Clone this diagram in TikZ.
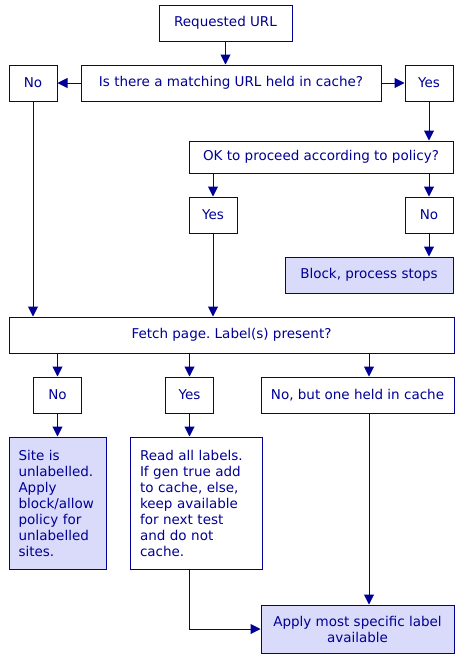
\documentclass[tikz,border=0pt]{standalone}
\usepackage{fontspec}
\setmainfont{DejaVu Sans}
\usetikzlibrary{arrows.meta,calc}
\definecolor{navy}{RGB}{0,0,150}
\definecolor{lav}{RGB}{218,218,250}
\tikzset{
  box/.style={draw=navy, line width=1pt, fill=white, text=navy, inner sep=0pt,
    font=\fontsize{13.5}{16}\selectfont\frenchspacing},
  fbox/.style={box, fill=lav},
  arr/.style={draw=navy, line width=1pt, -{Triangle[width=10pt,length=10pt]}},
  ln/.style={draw=navy, line width=1pt}
}
\begin{document}
\begin{tikzpicture}[x=1pt,y=-1pt]
\useasboundingbox (0,0) rectangle (463,659);
\node[box, minimum width=133pt, minimum height=36pt] (req) at (225.5,23) {Requested URL};
\node[box, minimum width=300pt, minimum height=36pt] (q) at (231,83) {Is there a matching URL held in cache?};
\node[box, minimum width=48pt, minimum height=36pt] (noL) at (33,83) {No};
\node[box, minimum width=48pt, minimum height=36pt] (yesR) at (429,83) {Yes};
\node[box, minimum width=264pt, minimum height=32pt] (ok) at (321,157) {OK to proceed according to policy?};
\node[box, minimum width=48pt, minimum height=36pt] (yes2) at (213,215) {Yes};
\node[box, minimum width=48pt, minimum height=36pt] (no2) at (429,215) {No};
\node[fbox, minimum width=168pt, minimum height=36pt] (block) at (369,275) {Block, process stops};
\node[box, minimum width=445pt, minimum height=36pt] (fetch) at (231.5,335) {Fetch page. Label(s) present?};
\node[box, minimum width=48pt, minimum height=36pt] (noB) at (57.5,395) {No};
\node[box, minimum width=48pt, minimum height=36pt] (yesB) at (189.5,395) {Yes};
\node[box, minimum width=193pt, minimum height=36pt] (nobut) at (357.5,395) {No, but one held in cache};
\node[fbox, minimum width=97pt, minimum height=132pt, text width=78pt, inner xsep=9.5pt, align=left] (site) at (57.5,503)
  {Site is\\unlabelled.\\Apply\\block/allow\\policy for\\unlabelled\\sites.};
\node[box, minimum width=132pt, minimum height=132pt, text width=112pt, inner xsep=10pt, align=left] (read) at (196,503)
  {Read all labels.\\If gen true add\\to cache, else,\\keep available\\for next test\\and do not\\cache.};
\node[fbox, minimum width=193pt, minimum height=48pt, align=center] (apply) at (357.5,629)
  {Apply most specific label\\available};
\coordinate (c3) at (369,353);
\draw[arr] (req.south) -- (req.south |- q.north);
\draw[arr] (q.west) -- (noL.east);
\draw[arr] (q.east) -- (yesR.west);
\draw[arr] (yesR.south) -- (ok.north -| yesR.south);
\draw[arr] (yes2.north |- ok.south) -- (yes2.north);
\draw[arr] (no2.north |- ok.south) -- (no2.north);
\draw[arr] (no2.south) -- (no2.south |- block.north);
\draw[arr] (noL.south) -- (noL.south |- fetch.north);
\draw[arr] (yes2.south) -- (yes2.south |- fetch.north);
\draw[arr] (noB.north |- fetch.south) -- (noB.north);
\draw[arr] (yesB.north |- fetch.south) -- (yesB.north);
\draw[arr] (c3) -- (c3 |- nobut.north);
\draw[arr] (noB.south) -- (noB.south |- site.north);
\draw[arr] (yesB.south) -- (yesB.south |- read.north);
\draw[arr] (c3 |- nobut.south) -- (c3 |- apply.north);
\draw[arr] (yesB.south |- read.south) |- (apply.west);
\end{tikzpicture}
\end{document}
